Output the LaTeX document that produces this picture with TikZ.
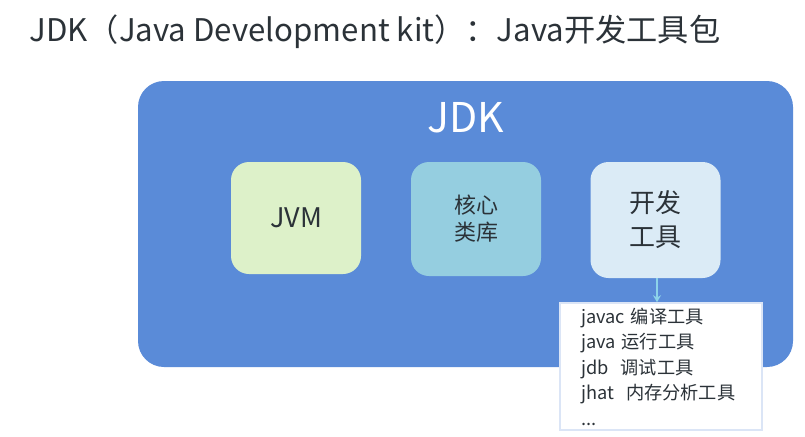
\documentclass[tikz,border=0pt]{standalone}
\usepackage{fontspec}
\setmainfont{Noto Sans CJK SC}
\usetikzlibrary{arrows.meta, positioning}
\definecolor{jdkblue}{HTML}{5A8BD8}
\definecolor{jvmgreen}{HTML}{DDF1C9}
\definecolor{libteal}{HTML}{95CEE0}
\definecolor{toolpale}{HTML}{DBEBF6}
\definecolor{arrowcyan}{HTML}{8DD3EA}
\definecolor{inktext}{HTML}{2B3238}

\begin{document}
\begin{tikzpicture}[x=1pt, y=-1pt, every node/.style={text=inktext}]
\useasboundingbox (0,0) rectangle (805,436);
% Title
\node[anchor=west, font=\fontsize{31.2}{36}\selectfont] (title) at (26,32) {JDK（Java Development kit）：Java开发工具包};

% JDK container
\node[fill=jdkblue, rounded corners=26pt, minimum width=655pt, minimum height=286pt] (jdk) at (465.5,224) {};
\node[text=white, font=\fontsize{41}{46}\selectfont] (jdklabel) at (465.5,118) {JDK};

% Parts of the JDK
\node[fill=jvmgreen, rounded corners=18pt, minimum width=130pt, minimum height=112pt, font=\fontsize{27}{30}\selectfont] (jvm) at (296,218) {JVM};
\node[fill=libteal, rounded corners=18pt, minimum width=130pt, minimum height=114pt, align=center, font=\fontsize{22}{27}\selectfont] (corelib) at (476,219) {核心\\类库};
\node[fill=toolpale, rounded corners=18pt, minimum width=130pt, minimum height=116pt, align=center, font=\fontsize{26}{34}\selectfont] (devtools) at (655.5,220) {开发\\工具};

% Tool list
\node[fill=white, draw=jdkblue!22, line width=1.5pt, minimum height=127pt, text width=160pt, inner xsep=21pt, align=left, font=\fontsize{18.2}{25.5}\selectfont] (toollist) at (661,366.5) {
    javac 编译工具\\
    java 运行工具\\
    jdb\ \ 调试工具\\
    jhat\ \ 内存分析工具\\
    ...
};

% Arrow
\draw[-{Stealth[length=7pt, width=8pt]}, arrowcyan, line width=1.5pt] ([xshift=1.5pt]devtools.south) -- ([xshift=1.5pt]devtools.south |- toollist.north);
\end{tikzpicture}
\end{document}
